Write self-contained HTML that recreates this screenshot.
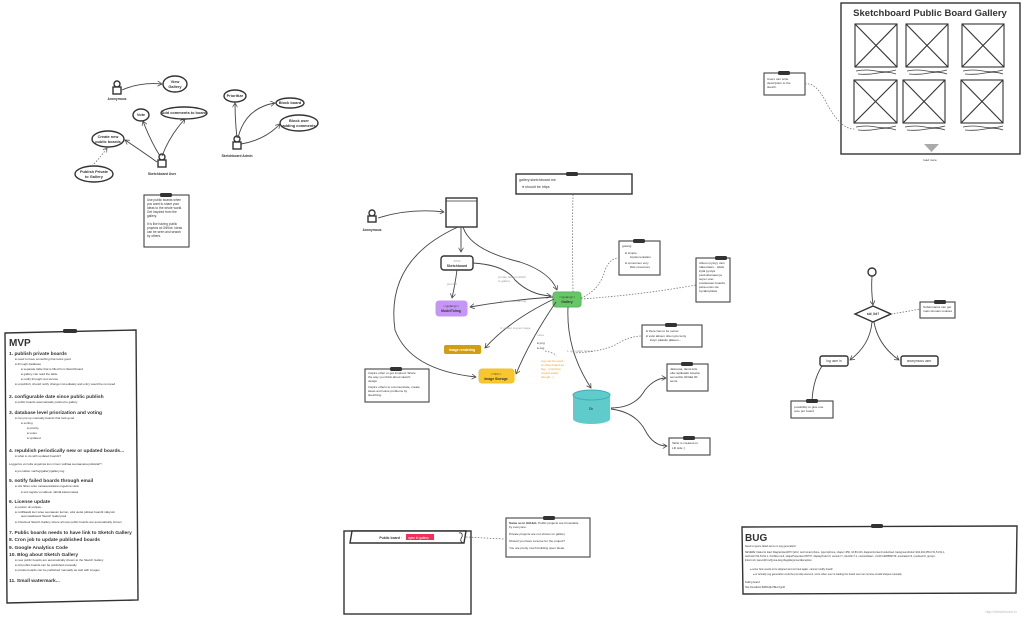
<!DOCTYPE html>
<html><head><meta charset="utf-8"><style>
html,body{margin:0;padding:0;background:#fff;}
svg{display:block;font-family:"Liberation Sans",sans-serif;}
.b{fill:#fff;stroke:#333;stroke-width:1.4}
.n{fill:#fff;stroke:#444;stroke-width:1.1}
.c{fill:none;stroke:#444;stroke-width:0.9}
.d{fill:none;stroke:#777;stroke-width:0.8;stroke-dasharray:1.5 1.5}
.pin{fill:#333}
text{fill:#333}
.s{font-weight:bold}
.u text{font-size:3.9px}
</style></head><body>
<svg width="1024" height="618" viewBox="0 0 1024 618" font-size="3.6" xmlns="http://www.w3.org/2000/svg">
<defs><marker id="a" markerWidth="6" markerHeight="6" refX="5" refY="3" orient="auto"><path d="M0,0 L5,3 L0,6" fill="none" stroke="#444" stroke-width="0.8"/></marker></defs>

<g class="u">
<g transform="translate(117,90)"><circle cx="0" cy="-6" r="3" class="b" stroke-width="1"/><rect x="-4" y="-3" width="8" height="7" class="b" stroke-width="1"/></g>
<text x="117" y="100" class="s" text-anchor="middle" style="font-size:3.3px">Anonymous</text>
<ellipse cx="175" cy="84" rx="12" ry="8" class="b"/><text x="175" y="83" class="s" text-anchor="middle">View</text><text x="175" y="88" class="s" text-anchor="middle">Gallery</text>
<path d="M122,90 Q140,82 162,84" class="c" marker-end="url(#a)"/>
<ellipse cx="141" cy="115" rx="8" ry="6" class="b"/><text x="141" y="116" class="s" text-anchor="middle">Vote</text>
<ellipse cx="184" cy="113" rx="23" ry="6" class="b"/><text x="184" y="114" class="s" text-anchor="middle">Add comments to board</text>
<ellipse cx="108" cy="139" rx="16" ry="8" class="b"/><text x="108" y="138" class="s" text-anchor="middle">Create new</text><text x="108" y="143" class="s" text-anchor="middle">public boards</text>
<ellipse cx="94" cy="174" rx="19" ry="8" class="b"/><text x="94" y="173" class="s" text-anchor="middle">Publish Private</text><text x="94" y="178" class="s" text-anchor="middle">to Gallery</text>
<g transform="translate(162,163)"><circle cx="0" cy="-6" r="3" class="b" stroke-width="1"/><rect x="-4" y="-3" width="8" height="7" class="b" stroke-width="1"/></g>
<text x="162" y="175" class="s" text-anchor="middle" style="font-size:3.3px">Sketchboard User</text>
<path d="M160,156 Q150,140 143,121" class="c" marker-end="url(#a)"/>
<path d="M162,156 Q170,135 185,119" class="c" marker-end="url(#a)"/>
<path d="M157,162 Q140,150 125,140" class="c" marker-end="url(#a)"/>
<path d="M92,166 Q100,158 107,148" class="d" marker-end="url(#a)"/>
<rect x="144" y="195" width="45" height="52" class="n"/><rect x="160" y="193" width="12" height="4" rx="1.5" class="pin"/>
<text style="font-size:3.2px"><tspan x="147" y="201">Use public boards when</tspan><tspan x="147" y="205">you want to share your</tspan><tspan x="147" y="209">ideas to the whole world.</tspan><tspan x="147" y="213">Get inspired from the</tspan><tspan x="147" y="217">gallery.</tspan><tspan x="147" y="225">It is like having public</tspan><tspan x="147" y="229">projects at GitHub. Ideas</tspan><tspan x="147" y="233">can be seen and search</tspan><tspan x="147" y="237">by others.</tspan></text>
<ellipse cx="235" cy="96" rx="11" ry="6" class="b"/><text x="235" y="97" class="s" text-anchor="middle">Prioritize</text>
<ellipse cx="290" cy="103" rx="14" ry="5" class="b"/><text x="290" y="104" class="s" text-anchor="middle">Block board</text>
<ellipse cx="299" cy="123" rx="19" ry="8" class="b"/><text x="299" y="122" class="s" text-anchor="middle">Block user</text><text x="299" y="127" class="s" text-anchor="middle">adding comments</text>
<g transform="translate(237,145)"><circle cx="0" cy="-6" r="3" class="b" stroke-width="1"/><rect x="-4" y="-3" width="8" height="7" class="b" stroke-width="1"/></g>
<text x="237" y="157" class="s" text-anchor="middle" style="font-size:3.3px">Sketchboard Admin</text>
<path d="M237,138 Q235,120 235,103" class="c" marker-end="url(#a)"/>
<path d="M238,138 Q245,108 275,103" class="c" marker-end="url(#a)"/>
<path d="M241,144 Q265,140 280,124" class="c" marker-end="url(#a)"/>
</g>

<polygon points="5,333 136,330 138,600 7,603" class="b"/>
<rect x="63" y="329" width="14" height="4" rx="1.5" class="pin"/>
<text x="9" y="346" font-size="10" font-weight="bold">MVP</text>
<g font-size="3">
<text x="9" y="355" class="s" font-size="4.9">1. publish private boards</text>
<text x="15" y="360">●  need to have something that looks good</text>
<text x="15" y="365">●  through database</text>
<text x="21" y="370">●  separate table that is filled from Sketchboard</text>
<text x="21" y="375">●  gallery can read the table</text>
<text x="21" y="380">●  notify through rest service</text>
<text x="15" y="385">●  unpublish, should notify change immediately and entry would be removed</text>
<text x="9" y="398" class="s" font-size="4.9">2. configurable date since public publish</text>
<text x="15" y="403">●  public boards automatically pushed to gallery</text>
<text x="9" y="414" class="s" font-size="4.9">3. database level priorization and voting</text>
<text x="15" y="419">●  can put up manually boards that look good</text>
<text x="21" y="424">●  sorting</text>
<text x="27" y="429">●  priority</text>
<text x="27" y="434">●  votes</text>
<text x="27" y="439">●  updated</text>
<text x="9" y="452" class="s" font-size="4.9">4. republish periodically new or updated boards...</text>
<text x="15" y="457">●  what to do with updated boards?</text>
<text x="9" y="465">Loggeriss voi tulla ongelmia kun nimen vaihtaa seuraavana päivänä?!</text>
<text x="15" y="472">●  joo taltsa: var/log/gallery/gallery.log</text>
<text x="9" y="482" class="s" font-size="4.9">5. notify failed boards through email</text>
<text x="15" y="487">●  olis fiiksu onko vastaavanlaisia ongelmia vielä</text>
<text x="21" y="493">●  tois logista voi alkuun nähdä katsomassa</text>
<text x="9" y="503" class="s" font-size="4.9">6. License update</text>
<text x="15" y="508">●  poissin oli pohjaa...</text>
<text x="15" y="513">●  notifikaatti kun tulee seuraavan kerran, että uudet julkiset boardit näkyvät</text>
<text x="21" y="517">automaattisesti Sketch Galleryssä</text>
<text x="15" y="523">●  Checkout Sketch Gallery where all new public boards are automatically shown</text>
<text x="9" y="534" class="s" font-size="4.9">7. Public boards needs to have link to Sketch Gallery</text>
<text x="9" y="541" class="s" font-size="4.9">8. Cron job to update published boards</text>
<text x="9" y="549" class="s" font-size="4.9">9. Google Analytics Code</text>
<text x="9" y="556" class="s" font-size="4.9">10. Blog about Sketch Gallery</text>
<text x="15" y="561">●  new public boards are automatically shown at the Sketch Gallery</text>
<text x="15" y="566">●  old public boards can be published manually</text>
<text x="15" y="571">●  private boards can be published manually as well with images</text>
<text x="9" y="582" class="s" font-size="4.9">11. Small watermark...</text>
</g>

<rect x="516" y="174" width="116" height="20" class="b"/><rect x="566" y="172" width="12" height="4" rx="1.5" class="pin"/>
<text><tspan x="519" y="181">gallery.sketchboard.me</tspan><tspan x="522" y="188">●  should be https</tspan></text>
<g transform="translate(372,218)"><circle cx="0" cy="-5" r="3" class="b" stroke-width="1"/><rect x="-4" y="-2" width="8" height="6" class="b" stroke-width="1"/></g>
<text x="372" y="231" class="s" font-size="3.3" text-anchor="middle">Anonymous</text>
<path d="M378,218 Q410,208 444,212" class="c" marker-end="url(#a)"/>
<rect x="446" y="198" width="31" height="29" class="b"/><line x1="446" y1="201" x2="477" y2="201" stroke="#333" stroke-width="0.8"/>
<rect x="441" y="256" width="32" height="14" rx="3" class="b"/><text x="457" y="262" text-anchor="middle" font-size="3">&lt;&lt;&gt;&gt;</text><text x="457" y="267" class="s" text-anchor="middle" font-size="3.4">Sketchboard</text>
<rect x="436" y="301" width="31" height="15" rx="3" fill="#c795f7" stroke="#c795f7"/><text x="451" y="307" text-anchor="middle" font-size="3">&lt;&lt;golang&gt;&gt;</text><text x="451" y="312" class="s" text-anchor="middle" font-size="3.4">ModelToImg</text>
<rect x="553" y="292" width="28" height="15" rx="3" fill="#66c766" stroke="#5ab55a"/><text x="567" y="298" text-anchor="middle" font-size="3">&lt;&lt;golang&gt;&gt;</text><text x="567" y="303" class="s" text-anchor="middle" font-size="3.4">Gallery</text>
<rect x="444" y="345" width="37" height="9" rx="2" fill="#d29d0e"/><text x="462" y="351" class="s" text-anchor="middle" font-size="3.4" style="fill:#fff">Image rendering</text>
<rect x="479" y="369" width="35" height="14" rx="3" fill="#f8c72e" stroke="#f0c030"/><text x="496" y="375" text-anchor="middle" font-size="3">&lt;&lt;S3&gt;&gt;</text><text x="496" y="380" class="s" text-anchor="middle" font-size="3.4">Image Storage</text>
<path d="M573,395 L573,419 A18.5,5 0 0 0 610,419 L610,395 Z" fill="#5fcbcb"/><ellipse cx="591.5" cy="395" rx="18.5" ry="5" fill="#5fcbcb" stroke="#4ab"/>
<text x="591" y="410" text-anchor="middle">Db</text>
<path d="M461,227 L461,252" class="c" marker-end="url(#a)"/>
<path d="M463,227 Q470,250 520,262 Q550,272 557,290" class="c" marker-end="url(#a)"/>
<path d="M457,270 Q455,285 452,298" class="c" marker-end="url(#a)"/>
<text x="447" y="285" font-size="3" style="fill:#999">pmodel</text>
<path d="M473,263 Q505,265 515,280 Q530,295 551,296" class="c" marker-end="url(#a)"/>
<text x="498" y="278" font-size="3" style="fill:#999">private board publish</text><text x="498" y="282" font-size="3" style="fill:#999">to gallery</text>
<path d="M553,297 Q510,300 470,307" class="c" marker-end="url(#a)"/>
<text x="500" y="302" font-size="3" style="fill:#999">2. get model as img</text>
<path d="M554,299 Q510,320 485,348" class="c" marker-end="url(#a)"/>
<text x="500" y="329" font-size="3" style="fill:#999">3. render svg as image</text>
<path d="M556,302 Q530,340 516,374" class="c" marker-end="url(#a)"/>
<text x="534" y="336" font-size="3" style="fill:#999">4. store</text>
<text font-size="3"><tspan x="537" y="344">●  png</tspan><tspan x="537" y="349">●  svg</tspan></text>
<path d="M545,351 Q555,353 556,356" class="d"/>
<text font-size="3" style="fill:#f29a1e"><tspan x="541" y="362">svg can be used</tspan><tspan x="541" y="366">to show board as</tspan><tspan x="541" y="370">big... (could be</tspan><tspan x="541" y="374">copied easily</tspan><tspan x="541" y="378">though...)</tspan></text>
<path d="M458,227 Q385,260 395,330 Q410,370 476,377" class="c" marker-end="url(#a)"/>
<path d="M568,307 Q566,350 591,388" class="c" marker-end="url(#a)"/>
<text x="567" y="352" font-size="3" style="fill:#999">1. get public boards</text>
<path d="M573,292 Q572,240 573,194" class="d"/>
<rect x="365" y="369" width="64" height="33" class="n"/><rect x="390" y="367" width="12" height="4" rx="1.5" class="pin"/>
<text font-size="3.1"><tspan x="368" y="374">Inspire other or get inspired. Share</tspan><tspan x="368" y="378">the way you think about sketch</tspan><tspan x="368" y="382">design.</tspan><tspan x="368" y="388">Inspire others to communicate, create</tspan><tspan x="368" y="392">ideas and solve problems by</tspan><tspan x="368" y="396">sketching.</tspan></text>
<rect x="619" y="241" width="41" height="34" class="n"/><rect x="633" y="239" width="12" height="4" rx="1.5" class="pin"/>
<text font-size="3.1"><tspan x="622" y="247">golang</tspan><tspan x="625" y="254">●  simple</tspan><tspan x="630" y="258">implementation</tspan><tspan x="625" y="264">●  consumes very</tspan><tspan x="630" y="268">little resources</tspan></text>
<path d="M581,298 Q600,290 605,270 Q610,258 619,258" class="d"/>
<rect x="696" y="258" width="34" height="44" class="n"/><rect x="715" y="256" width="12" height="4" rx="1.5" class="pin"/>
<text font-size="3.1"><tspan x="699" y="264">Alkuun pystyy vain</tspan><tspan x="699" y="268">näkemään... pitäis</tspan><tspan x="699" y="272">kyllä pystyä</tspan><tspan x="699" y="276">peukuttamaan ja</tspan><tspan x="699" y="280">super user</tspan><tspan x="699" y="284">postamaan boardit,</tspan><tspan x="699" y="288">jotka ensin ole</tspan><tspan x="699" y="292">hyväksyttävä</tspan></text>
<path d="M581,299 Q640,295 696,285" class="d"/>
<rect x="642" y="325" width="60" height="22" class="n"/><rect x="665" y="323" width="12" height="4" rx="1.5" class="pin"/>
<text font-size="3.1"><tspan x="646" y="332">●  there has to be owner</tspan><tspan x="646" y="337">●  voisi alkuun olla myös lenty</tspan><tspan x="650" y="341">listyn pääsän jälkeen...</tspan></text>
<path d="M573,353 Q600,352 615,345 Q630,336 642,336" class="d"/>
<rect x="667" y="364" width="41" height="27" class="n"/><rect x="681" y="362" width="12" height="4" rx="1.5" class="pin"/>
<text font-size="3.1"><tspan x="670" y="370">Jatkossa, tämä tulis</tspan><tspan x="670" y="374">olla replikaatti toiselta</tspan><tspan x="670" y="378">serveriltä. Riittää 30</tspan><tspan x="670" y="382">sensi.</tspan></text>
<path d="M611,408 Q635,408 645,390 Q655,378 666,378" class="c" marker-end="url(#a)"/>
<rect x="669" y="438" width="41" height="17" class="n"/><rect x="683" y="436" width="12" height="4" rx="1.5" class="pin"/>
<text font-size="3.1"><tspan x="672" y="444">Table is created on</tspan><tspan x="672" y="449">LR side :)</tspan></text>
<path d="M611,409 Q635,412 645,430 Q653,446 667,446" class="c" marker-end="url(#a)"/>

<rect x="841" y="3" width="179" height="151" class="b"/>
<text x="930" y="16" text-anchor="middle" font-size="9.5" font-weight="bold">Sketchboard Public Board Gallery</text>
<g stroke="#333" stroke-width="1.1" fill="#fff">
<rect x="855" y="24" width="42" height="43"/><path d="M855,24 L897,67 M897,24 L855,67"/>
<rect x="906" y="24" width="42" height="43"/><path d="M906,24 L948,67 M948,24 L906,67"/>
<rect x="962" y="24" width="42" height="43"/><path d="M962,24 L1004,67 M1004,24 L962,67"/>
<rect x="854" y="80" width="43" height="43"/><path d="M854,80 L897,123 M897,80 L854,123"/>
<rect x="903" y="80" width="42" height="43"/><path d="M903,80 L945,123 M945,80 L903,123"/>
<rect x="961" y="80" width="42" height="43"/><path d="M961,80 L1003,123 M1003,80 L961,123"/>
</g>
<g fill="none" stroke="#444" stroke-width="0.8">
<path d="M856,71 q10,-2 20,0 t20,-1 M858,74 q10,1 20,-1 t18,1"/>
<path d="M907,71 q10,-2 20,0 t20,-1 M909,74 q10,1 20,-1 t18,1"/>
<path d="M963,71 q10,-2 20,0 t20,-1 M965,74 q10,1 20,-1 t18,1"/>
<path d="M856,127 q10,-2 20,0 t20,-1 M858,130 q10,1 20,-1 t18,1"/>
<path d="M905,127 q10,-2 20,0 t20,-1 M907,130 q10,1 20,-1 t18,1"/>
<path d="M963,127 q10,-2 20,0 t20,-1 M965,130 q10,1 20,-1 t18,1"/>
</g>
<polygon points="924,144 939,144 931.5,152" fill="#aaa"/>
<text x="930" y="161" text-anchor="middle" font-size="3">load more</text>
<rect x="764" y="73" width="41" height="22" class="n"/><rect x="778" y="71" width="12" height="4" rx="1.5" class="pin"/>
<text font-size="3.1"><tspan x="767" y="80">Users can write</tspan><tspan x="767" y="84">description to the</tspan><tspan x="767" y="88">sketch.</tspan></text>
<path d="M805,84 Q815,82 825,100 Q840,130 855,129" class="d"/>

<circle cx="872" cy="272" r="4" class="b" stroke-width="1"/>
<path d="M872,276 Q871,290 873,305" class="c" marker-end="url(#a)"/>
<polygon points="855,314 873,306 891,314 873,322" class="b"/>
<text x="873" y="315" text-anchor="middle" class="s" font-size="3.3">sid_lid?</text>
<rect x="920" y="302" width="35" height="16" class="n"/><rect x="934" y="300" width="12" height="4" rx="1.5" class="pin"/>
<text font-size="3.1"><tspan x="923" y="308">Subdomains can get</tspan><tspan x="923" y="312">main domain cookies</tspan></text>
<path d="M891,314 Q905,312 920,309" class="d"/>
<path d="M872,322 Q870,345 850,360" class="c" marker-end="url(#a)"/>
<path d="M874,322 Q878,345 899,360" class="c" marker-end="url(#a)"/>
<rect x="820" y="356" width="28" height="10" rx="2" class="b"/><text x="834" y="362" text-anchor="middle" font-size="3.3">log user in</text>
<rect x="901" y="356" width="37" height="10" rx="2" class="b"/><text x="919" y="362" text-anchor="middle" font-size="3.3">anonymous user</text>
<path d="M822,366 Q813,380 812,401" class="c"/>
<rect x="791" y="401" width="42" height="17" class="n"/><rect x="806" y="399" width="12" height="4" rx="1.5" class="pin"/>
<text font-size="3.1"><tspan x="794" y="408">possibility to give one</tspan><tspan x="794" y="412">vote per board</tspan></text>

<rect x="344" y="531" width="127" height="83" class="b"/>
<polygon points="352,531 466,531 464,543 350,543" class="b" stroke-width="1"/>
<text x="402" y="539" text-anchor="end" class="s" font-size="3.4">Public board · </text>
<rect x="406" y="534" width="28" height="6" fill="#f0305a"/><text x="408" y="539" font-size="3.2" style="fill:#fff">open in gallery</text>
<path d="M459,533 q4,-1 3,4 q-3,4 1,6" fill="none" stroke="#333" stroke-width="0.8"/>
<path d="M466,537 Q485,538 505,539" class="d"/>
<rect x="506" y="518" width="84" height="39" class="n"/><rect x="543" y="516" width="12" height="4" rx="1.5" class="pin"/>
<text font-size="3.1"><tspan x="509" y="524" font-weight="bold">Same as in GitHub.</tspan><tspan> Public projects are browsable</tspan><tspan x="509" y="528">by everyone.</tspan><tspan x="509" y="535">Private projects are not shown on gallery.</tspan><tspan x="509" y="542">Should you have License for the project?</tspan><tspan x="509" y="549">You are pretty much building open ideas.</tspan></text>

<polygon points="742,527 1017,526 1016,593 743,594" class="b"/>
<rect x="871" y="524" width="12" height="4" rx="1.5" class="pin"/>
<text x="745" y="541" font-size="10" font-weight="bold">BUG</text>
<g font-size="2.5">
<text x="745" y="547">Need to ignore failed items on svg generation!</text>
<text x="745" y="553">SEVERE: Failed to load: DiagramItemDTO [id=2, text=smart phone, type=sphone, shape=-650, 16,83,123, diagramContent=undefined, backgroundColor=204,204,255,0.51,51,51,1,</text>
<text x="745" y="557">textColor=51,51,51,1, fontSize=null, shapeProperties=65737, displayOrder=0, version=7, clientId=7-1, customData=, crc32=1928599739, annotation=0, resolved=0, group=,</text>
<text x="745" y="561">links=null, parentId=null] java.lang.IllegalArgumentException</text>
<text x="750" y="570">●  some how needs to be skipped and not tried again, cannot modify board!</text>
<text x="753" y="575">●  or actually svg generation could be just skip element, since when user is loading the board user can remove invalid shapes manually</text>
<text x="745" y="583">Failing board:</text>
<text x="745" y="588">http://localhost:8080/sjifu7Biuv7gcM</text>
</g>
<text x="1017" y="613" text-anchor="end" font-size="3.5" style="fill:#bbb">http://sketchboard.io</text>
</svg>
</body></html>
